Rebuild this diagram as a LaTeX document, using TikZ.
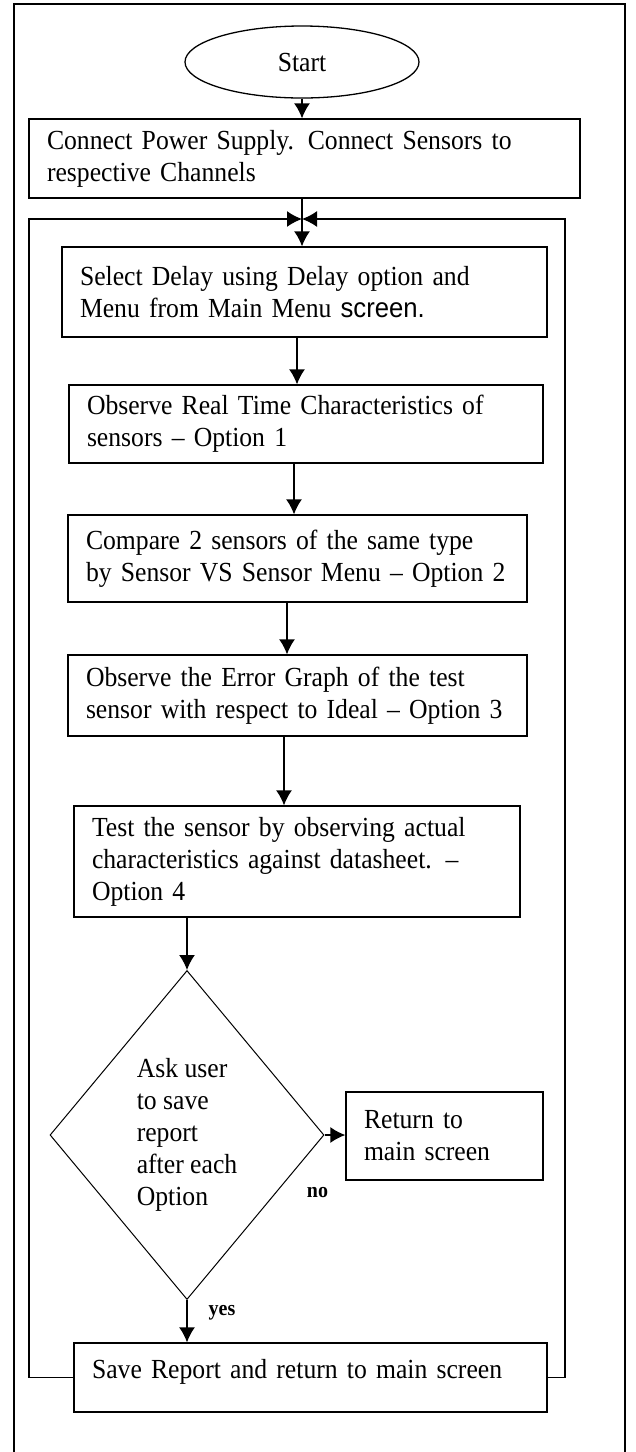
\documentclass[tikz,border=0pt]{standalone}
\usepackage{fontspec}
\setmainfont{Liberation Serif}[FakeStretch=0.93]
\newfontfamily\arialfont{Liberation Sans}[FakeStretch=0.93]
\usetikzlibrary{shapes.geometric,arrows.meta}
\tikzset{>={Latex[length=15pt,width=16pt]}}
\tikzset{
  boxtext/.style={font=\fontsize{27.6}{32}\selectfont},
  procbox/.style={draw, line width=1.3pt, inner xsep=18pt, inner ysep=0pt, align=left, boxtext},
  terminal/.style={draw, ellipse, line width=1.3pt, minimum width=234pt, minimum height=72pt, inner sep=0pt, boxtext},
  decision/.style={draw, diamond, line width=1pt, minimum width=274pt, minimum height=329pt, inner sep=0pt, align=left, boxtext},
  flow/.style={->, line width=1.5pt},
  yesno/.style={font=\bfseries\fontsize{21.5}{24}\selectfont}
}

\begin{document}
\begin{tikzpicture}[x=1pt,y=-1pt]
		\useasboundingbox (0,0) rectangle (636,1452);
		% Frame
		\draw[line width=2pt] (14,1452) -- (14,4) -- (625,4) -- (625,1452);

		% Steps
		\node[terminal] (start) at (302,62) {Start};
		\node[procbox, text width=515pt, minimum height=79pt] (conn) at (304.5,158.5) {Connect Power Supply. Connect Sensors to\\respective Channels};
		\node[procbox, text width=449pt, minimum height=90pt] (delay) at (304.5,292) {Select Delay using Delay option and\\Menu from Main Menu {\arialfont screen.}};
		\node[procbox, text width=438pt, minimum height=78pt] (opt1) at (306,424) {Observe Real Time Characteristics of\\sensors -- Option 1};
		\node[procbox, text width=423pt, minimum height=87pt] (opt2) at (297.5,558.5) {Compare 2 sensors of the same type\\by Sensor VS Sensor Menu -- Option~2};
		\node[procbox, text width=423pt, minimum height=81pt] (opt3) at (297.5,695.5) {Observe the Error Graph of the test\\sensor with respect to Ideal -- Option~3};
		\node[procbox, text width=410pt, minimum height=111pt] (opt4) at (297,861.5) {Test the sensor by observing actual\\characteristics against datasheet. --\\Option 4};
		\node[decision] (ask) at (187,1135) {Ask user\\to save\\report\\after each\\Option};
		\node[procbox, text width=161pt, minimum height=88pt] (ret) at (444.5,1136) {Return to\\main screen};
		\node[procbox, text width=437pt, minimum height=69pt, text depth=18pt] (save) at (310.5,1377.5) {Save Report and return to main screen};
		\coordinate (join) at (302,219);

		% Arrows
		\draw[flow] (start) -- (start |- conn.north);
		\draw[flow] (conn.south -| join) -- (delay.north -| join);
		\draw[flow] (delay.south -| 297,0) -- (opt1.north -| 297,0);
		\draw[flow] (opt1.south -| 294,0) -- (opt2.north -| 294,0);
		\draw[flow] (opt2.south -| 287,0) -- (opt3.north -| 287,0);
		\draw[flow] (opt3.south -| 284,0) -- (opt4.north -| 284,0);
		\draw[flow] (opt4.south -| ask.north) -- (ask.north);
		\draw[flow] (ask.east) -- (ask.east -| ret.west) node[yesno, pos=0, xshift=-7pt, yshift=-58pt] {no};
		\draw[flow] (ask.south) -- (ask.south |- save.north) node[yesno, pos=0.3, xshift=35pt] {yes};

		% Loop back
		\draw[flow] (save.west) -| (29,219) -- (join);
		\draw[flow] (save.east) -| (565,219) -- (join);
\end{tikzpicture}
\end{document}
